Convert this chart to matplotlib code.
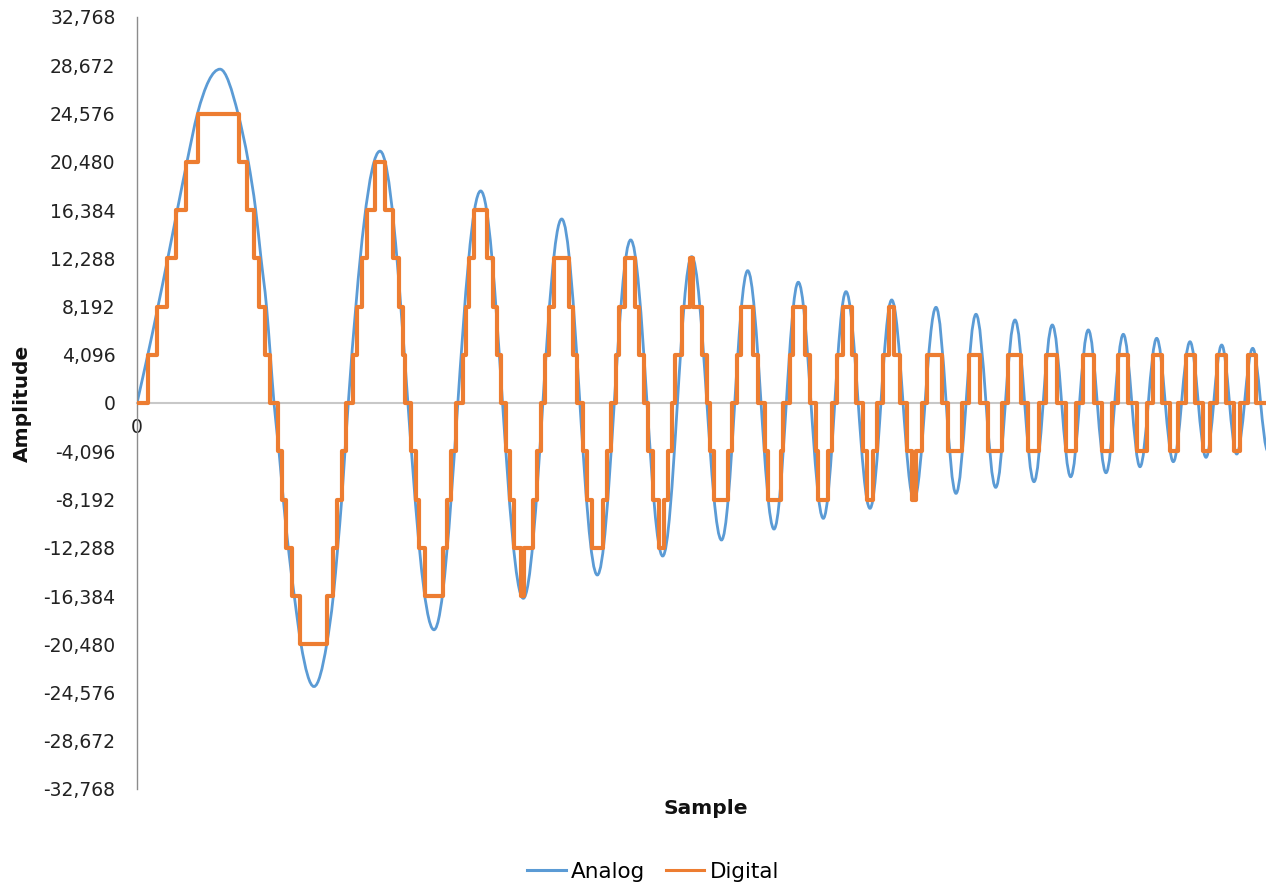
import matplotlib
matplotlib.use("Agg")
import matplotlib.pyplot as plt
from matplotlib.path import Path
from matplotlib.patches import PathPatch
from matplotlib.lines import Line2D

# ---------------- data ----------------
# Analog signal: points (level crossings on the first cycle,
# then the successive peaks and troughs)
analog_x = [0, 10.8, 21, 30.8, 40.3, 50, 60.5, 83,
            101, 111.3, 118.7, 124, 129.5, 133.3, 137,
            142, 146.3, 151.3, 157.3, 164, 177,
            189.7, 196.3, 200.7, 204.7, 208, 211.3,
            243, 297, 343.7, 386.3, 424.7, 460.3, 493.7, 525.7,
            554.7, 584.5, 610.7, 637, 661.3, 686.3, 709, 733, 754.7, 777,
            799, 819, 839, 858.7, 878, 897, 915.3, 933.7, 951.3, 969,
            986.3, 1003, 1019.7, 1036.3, 1053, 1069, 1084.7, 1099.7, 1115.7, 1131]
analog_y = [0, 4096, 8192, 12288, 16384, 20480, 24576, 28340,
            24576, 20480, 16384, 12288, 8192, 4096, 0,
            -4096, -8192, -12288, -16384, -20480, -24070,
            -20480, -16384, -12288, -8192, -4096, 0,
            21380, -19250, 18000, -16580, 15620, -14600, 13840, -12990,
            12420, -11630, 11230, -10700, 10250, -9790, 9450, -8940, 8745, -8240,
            8120, -7670, 7530, -7160, 7045, -6680, 6620, -6260, 6200, -5920,
            5830, -5410, 5490, -4980, 5200, -4610, 4920, -4330, 4640, -4100]

# Digital signal: sample positions where the quantised level changes, and level index
digital_x = [0, 11.3, 19.7, 29.7, 39, 49, 61.3, 101.5, 109.7, 116.5, 122, 128, 133,
             141, 144.5, 149, 155, 162.5, 189.7, 196, 200.3, 205, 208.5,
             216.3, 220.3, 224.7, 229.7, 238, 248, 255.7, 262, 265.7, 268,
             273.5, 279, 282.3, 288, 306.3, 309.7, 313.7, 319,
             325.5, 328.5, 331.5, 337, 349.7, 356.3, 359.7, 363.5,
             369, 373, 377, 383.5, 386.5, 396.3, 399.7, 403.7,
             408, 412.3, 417, 432.3, 436.3, 440.3,
             445.7, 449.7, 454.7, 465.7, 470.3, 473.7,
             478.7, 482.3, 488, 498, 502.3, 507,
             511.3, 516.3, 522.3, 527, 531.3, 534.7,
             538, 544.7, 553, 556.3, 564.7, 570.3,
             572.5, 576.5, 591.3, 594.7,
             599.7, 603.7, 616.3, 621.3,
             628, 631.3, 643.7, 646.3,
             653, 656.3, 668, 673,
             679, 681.3, 691.3, 694.7,
             700.3, 705.7, 714.7, 719,
             725.7, 729.7, 736.3, 739.7,
             746.3, 752.3, 757.3, 763,
             770.3, 774.7, 779, 784.7,
             789.7, 804.7, 811.3, 824.7, 832.3, 843, 851.3, 864.7,
             871.3, 883.7, 891.3, 902.3, 909, 919.7, 928.7, 939,
             945.7, 956.5, 964.7, 974.7, 981.3, 991.3, 999.7, 1009.7,
             1016.3, 1024.7, 1033, 1041.3, 1049, 1058, 1065.7, 1073,
             1080.3, 1089, 1097, 1103, 1111.3, 1119, 1129]
digital_level = [0, 1, 2, 3, 4, 5, 6, 5, 4, 3, 2, 1, 0,
                 -1, -2, -3, -4, -5, -4, -3, -2, -1, 0,
                 1, 2, 3, 4, 5, 4, 3, 2, 1, 0,
                 -1, -2, -3, -4, -3, -2, -1, 0,
                 1, 2, 3, 4, 3, 2, 1, 0,
                 -1, -2, -3, -4, -3, -2, -1, 0,
                 1, 2, 3, 2, 1, 0,
                 -1, -2, -3, -2, -1, 0,
                 1, 2, 3, 2, 1, 0,
                 -1, -2, -3, -2, -1, 0,
                 1, 2, 3, 2, 1, 0,
                 -1, -2, -1, 0,
                 1, 2, 1, 0,
                 -1, -2, -1, 0,
                 1, 2, 1, 0,
                 -1, -2, -1, 0,
                 1, 2, 1, 0,
                 -1, -2, -1, 0,
                 1, 2, 1, 0,
                 -1, -2, -1, 0,
                 1, 0, -1, 0, 1, 0, -1, 0,
                 1, 0, -1, 0, 1, 0, -1, 0,
                 1, 0, -1, 0, 1, 0, -1, 0,
                 1, 0, -1, 0, 1, 0, -1, 0,
                 1, 0, -1, 0, 1, 0, 0]
quant_step = 4096

y_ticks = list(range(-32768, 32769, 4096))
x_ticks = [0]
x_tick_labels = ["0"]
series_names = ["Analog", "Digital"]

# ---------------- styling ----------------
W, H = 1266, 886
BLUE = "#5B9BD5"
ORANGE = "#ED7D31"

fig = plt.figure(figsize=(W / 100, H / 100), dpi=100)
ax = fig.add_axes([137 / W, 1 - 789 / H, (W - 137) / W, (789 - 17) / H])

# ---- smooth analog path through the read points ----
n = len(analog_x)
is_ext = [False] * n
for i in range(1, n - 1):
    if (analog_y[i] - analog_y[i - 1]) * (analog_y[i + 1] - analog_y[i]) < 0:
        is_ext[i] = True
is_ext[-1] = True

tang = [0.0] * n
for i in range(n):
    if is_ext[i]:
        tang[i] = 0.0
    elif i == 0:
        tang[i] = (analog_y[1] - analog_y[0]) / (analog_x[1] - analog_x[0])
    else:
        h0 = analog_x[i] - analog_x[i - 1]
        h1 = analog_x[i + 1] - analog_x[i]
        d0 = (analog_y[i] - analog_y[i - 1]) / h0
        d1 = (analog_y[i + 1] - analog_y[i]) / h1
        tang[i] = (h0 * d1 + h1 * d0) / (h0 + h1)

verts = [(analog_x[0], analog_y[0])]
codes = [Path.MOVETO]
k = 0.3634
for i in range(1, n):
    x0, y0 = analog_x[i - 1], analog_y[i - 1]
    x1, y1 = analog_x[i], analog_y[i]
    dx = x1 - x0
    if is_ext[i - 1] and is_ext[i]:
        c1 = (x0 + k * dx, y0)
        c2 = (x1 - k * dx, y1)
    else:
        c1 = (x0 + dx / 3, y0 + tang[i - 1] * dx / 3)
        c2 = (x1 - dx / 3, y1 - tang[i] * dx / 3)
    verts += [c1, c2, (x1, y1)]
    codes += [Path.CURVE4] * 3
analog_patch = PathPatch(Path(verts, codes), facecolor="none", edgecolor=BLUE,
                         lw=2.0, transform=ax.transData, zorder=2)
ax.add_patch(analog_patch)

digital_y = [lv * quant_step for lv in digital_level]
dline, = ax.step(digital_x, digital_y, where="post", color=ORANGE, lw=3.0,
                 zorder=3, label=series_names[1])

ax.set_xlim(0, 1129)
ax.set_ylim(-32768, 32768)

ax.set_yticks(y_ticks)
ax.set_yticklabels([f"{v:,}" for v in y_ticks])
ax.set_xticks(x_ticks)
ax.set_xticklabels(x_tick_labels)
ax.tick_params(axis="y", length=0, pad=15.5, labelsize=13.5, labelcolor="#222222")
ax.tick_params(axis="x", length=0, pad=11, labelsize=13.5, labelcolor="#222222")

for s in ["top", "right"]:
    ax.spines[s].set_visible(False)
ax.spines["left"].set_color("#8C8C8C")
ax.spines["left"].set_linewidth(1.0)
ax.spines["bottom"].set_position(("data", 0))
ax.spines["bottom"].set_color("#C8C8C8")
ax.spines["bottom"].set_linewidth(1.5)
ax.spines["bottom"].set_zorder(1)

ax.set_ylabel("Amplitude", fontsize=14.5, fontweight="bold", color="#111111")
ax.yaxis.set_label_coords((22 - 137) / (W - 137), 0.5)
ax.yaxis.label.set_va("center")
ax.set_xlabel("Sample", fontsize=14.5, fontweight="bold", color="#111111")
ax.xaxis.set_label_coords((706 - 137) / (W - 137), (789 - 808) / (789 - 17))
ax.xaxis.label.set_va("center")

handles = [Line2D([], [], color=BLUE, lw=2.2), Line2D([], [], color=ORANGE, lw=2.2)]
fig.legend(handles, series_names, loc="center", bbox_to_anchor=(653 / W, 1 - 872 / H),
           ncol=2, frameon=False, fontsize=15.5, handlelength=1.8,
           handletextpad=0.25, columnspacing=0.95)

fig.savefig("out.png", dpi=100)
